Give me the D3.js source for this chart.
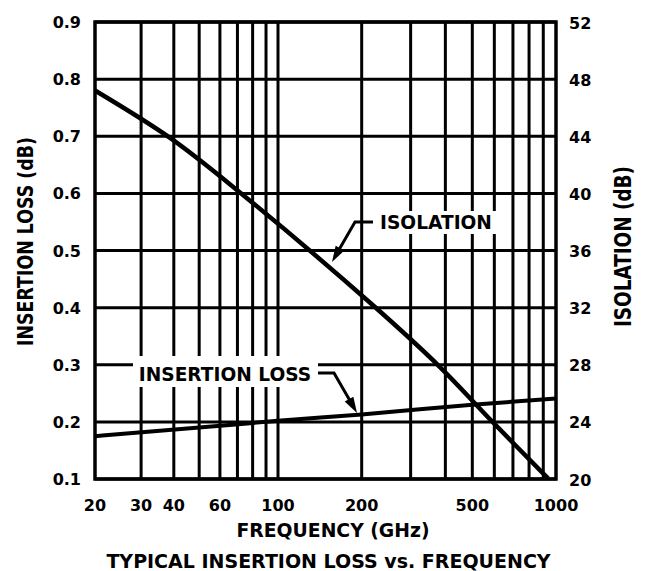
<!DOCTYPE html>
<html><head><meta charset="utf-8">
<script src="https://cdn.jsdelivr.net/npm/d3@7"></script>
<style>body{margin:0;background:#fff}svg text{font-family:"DejaVu Sans",sans-serif;font-weight:bold;fill:#000}</style>
</head><body>
<svg id="c" width="645" height="571"></svg>
<script>
const xTicks = [20, 30, 40, 60, 100, 200, 500, 1000];
const xGrid = [30, 40, 50, 60, 70, 80, 90, 100, 200, 300, 400, 500, 600, 700, 800, 900];
const leftTicks = [0.1, 0.2, 0.3, 0.4, 0.5, 0.6, 0.7, 0.8, 0.9];
const rightTicks = [20, 24, 28, 32, 36, 40, 44, 48, 52];
const isoFreq = [20, 38.7, 70.4, 217, 382.5, 587, 936];
const isoDb = [47.2, 43.88, 40.17, 32.25, 27.84, 24.06, 20.04];
const ilFreq = [20, 50, 100, 200, 500, 1000];
const ilDb = [0.175, 0.19, 0.202, 0.213, 0.230, 0.241];

const svg = d3.select("#c");
const L = 95, R = 556, T = 22, B = 479;
const x = d3.scaleLog().domain([20, 100, 1000]).range([L, 278, R]);
const yL = d3.scaleLinear().domain([0.1, 0.9]).range([B, T]);
const yR = d3.scaleLinear().domain([20, 52]).range([B, T]);

const g = svg.append("g");
g.selectAll(".vg").data(xGrid).enter().append("line")
  .attr("x1", d => x(d)).attr("x2", d => x(d)).attr("y1", T).attr("y2", B)
  .attr("stroke", "#000").attr("stroke-width", 3);
g.selectAll(".hg").data(leftTicks).enter().append("line")
  .attr("x1", L).attr("x2", R).attr("y1", d => yL(d)).attr("y2", d => yL(d))
  .attr("stroke", "#000").attr("stroke-width", 3);

const lineIso = d3.line().x((d, i) => x(isoFreq[i])).y(d => yR(d)).curve(d3.curveCatmullRom.alpha(0.5));
const lineIl = d3.line().x((d, i) => x(ilFreq[i])).y(d => yL(d)).curve(d3.curveMonotoneX);
g.append("path").attr("d", lineIso(isoDb)).attr("fill", "none").attr("stroke", "#000").attr("stroke-width", 4.5);
g.append("path").attr("d", lineIl(ilDb)).attr("fill", "none").attr("stroke", "#000").attr("stroke-width", 4);

// label boxes (break gridlines)
g.append("rect").attr("x", 133).attr("y", 356).attr("width", 185).attr("height", 31).attr("fill", "#fff");
g.append("rect").attr("x", 376).attr("y", 211).attr("width", 121).attr("height", 23).attr("fill", "#fff");

g.append("rect").attr("x", L).attr("y", T).attr("width", R - L).attr("height", B - T)
  .attr("fill", "none").attr("stroke", "#000").attr("stroke-width", 3.5);

// annotations
svg.append("text").attr("x", 225).attr("y", 381).attr("text-anchor", "middle").attr("font-size", 18.6).text("INSERTION LOSS");
svg.append("text").attr("x", 436).attr("y", 229).attr("text-anchor", "middle").attr("font-size", 18.6).text("ISOLATION");

function leader(pts) {
  const n = pts.length, tip = pts[n - 1], prev = pts[n - 2];
  const dx = tip[0] - prev[0], dy = tip[1] - prev[1], len = Math.hypot(dx, dy);
  const ux = dx / len, uy = dy / len, hl = 16, hw = 5;
  const bx = tip[0] - ux * hl, by = tip[1] - uy * hl;
  const line = pts.slice(0, n - 1).concat([[bx + ux * 2, by + uy * 2]]);
  svg.append("polyline").attr("points", line.map(p => p.join(",")).join(" "))
    .attr("fill", "none").attr("stroke", "#000").attr("stroke-width", 3);
  svg.append("polygon").attr("points", [tip, [bx - uy * hw, by + ux * hw], [bx + uy * hw, by - ux * hw]].map(p => p.join(",")).join(" "))
    .attr("fill", "#000");
}
leader([[318, 373], [334, 373], [357, 413]]);
leader([[373, 222], [355, 222], [332, 262]]);

// tick labels
svg.selectAll(".lt").data(leftTicks).enter().append("text")
  .attr("x", 81).attr("y", d => yL(d) + 6).attr("text-anchor", "end").attr("font-size", 16)
  .text(d => d3.format(".1f")(d));
svg.selectAll(".rt").data(rightTicks).enter().append("text")
  .attr("x", 569).attr("y", d => yR(d) + 6.5).attr("text-anchor", "start").attr("font-size", 16)
  .text(d => d);
svg.selectAll(".bt").data(xTicks).enter().append("text")
  .attr("x", d => x(d)).attr("y", 511).attr("text-anchor", "middle").attr("font-size", 16)
  .text(d => d);

svg.append("text").attr("x", 333).attr("y", 537).attr("text-anchor", "middle").attr("font-size", 18.8).text("FREQUENCY (GHz)");
svg.append("text").attr("x", 328.5).attr("y", 568).attr("text-anchor", "middle").attr("font-size", 19).text("TYPICAL INSERTION LOSS vs. FREQUENCY");
svg.append("text").attr("transform", "translate(33,241.5) scale(1.25,1) rotate(-90)").attr("text-anchor", "middle").attr("font-size", 17.4).text("INSERTION LOSS (dB)");
svg.append("text").attr("transform", "translate(631,246.5) scale(1.25,1) rotate(-90)").attr("text-anchor", "middle").attr("font-size", 18.4).text("ISOLATION (dB)");
</script>
</body></html>
